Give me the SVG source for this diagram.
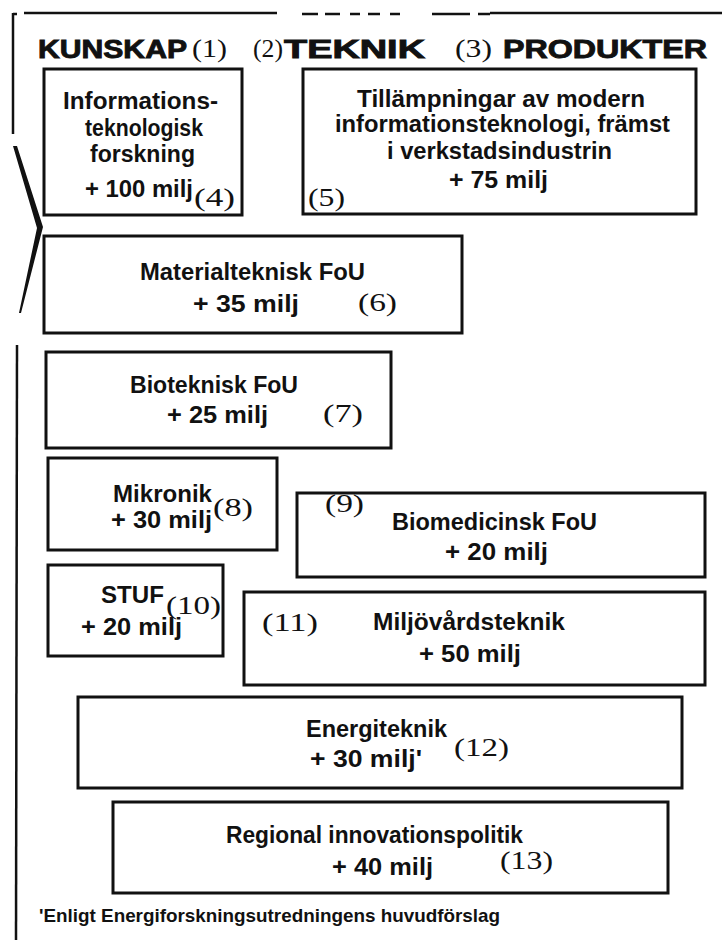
<svg xmlns="http://www.w3.org/2000/svg" width="722" height="940" viewBox="0 0 722 940">
<style>
.box{fill:none;stroke:#111;stroke-width:3}
.t{font-family:"Liberation Sans",Arial,sans-serif;font-weight:bold;font-size:23.5px;fill:#111}
.h{font-family:"Liberation Sans",Arial,sans-serif;font-weight:bold;font-size:26px;fill:#111;stroke:#111;stroke-width:0.9}
.n{font-family:"Liberation Serif","Times New Roman",serif;font-size:26px;fill:#111}
.fn{font-family:"Liberation Sans",Arial,sans-serif;font-weight:bold;font-size:18.5px;fill:#111}
.frame{fill:none;stroke:#111;stroke-width:2.5}
</style>
<rect width="722" height="940" fill="#fff"/>
<g id="frame">
<path class="frame" d="M13 14 L17 14 M24 13 L277 13 M302 14 L318 14 M325 14 L340 14 M350 14 L360 14 M368 14 L380 14 M390 14 L400 14 M432 14 L470 14 M478 14 L490 14 M490 13 L722 13"/>
<path class="frame" d="M13 13 L13 134"/>
<polygon points="13,146 17,146 43,227 21,313 19,313 37,228" fill="#111"/>
<path class="frame" d="M17 345 L16 940"/>
</g>
<g id="header">
<text class="h" x="38" y="58" textLength="149" lengthAdjust="spacingAndGlyphs">KUNSKAP</text>
<text class="n" x="192" y="57" textLength="35" lengthAdjust="spacingAndGlyphs">(1)</text>
<text class="n" x="253" y="57" textLength="30" lengthAdjust="spacingAndGlyphs">(2)</text>
<text class="h" x="284" y="58" textLength="141" lengthAdjust="spacingAndGlyphs">TEKNIK</text>
<text class="n" x="455" y="57" textLength="37" lengthAdjust="spacingAndGlyphs">(3)</text>
<text class="h" x="503" y="58" textLength="204" lengthAdjust="spacingAndGlyphs">PRODUKTER</text>
</g>
<g id="node4">
<rect class="box" x="44" y="69" width="198" height="146"/>
<text class="t" x="63" y="109" textLength="155" lengthAdjust="spacingAndGlyphs">Informations-</text>
<text class="t" x="85" y="136" textLength="118" lengthAdjust="spacingAndGlyphs">teknologisk</text>
<text class="t" x="90" y="162" textLength="105" lengthAdjust="spacingAndGlyphs">forskning</text>
<text class="t" x="85" y="197" textLength="108" lengthAdjust="spacingAndGlyphs">+ 100 milj</text>
<text class="n" x="194" y="206" textLength="41" lengthAdjust="spacingAndGlyphs">(4)</text>
</g>
<g id="node5">
<rect class="box" x="303" y="69" width="393" height="145"/>
<text class="t" x="357" y="107" textLength="288" lengthAdjust="spacingAndGlyphs">Tillämpningar av modern</text>
<text class="t" x="335" y="132" textLength="335" lengthAdjust="spacingAndGlyphs">informationsteknologi, främst</text>
<text class="t" x="387" y="159" textLength="225" lengthAdjust="spacingAndGlyphs">i verkstadsindustrin</text>
<text class="t" x="449" y="188" textLength="99" lengthAdjust="spacingAndGlyphs">+ 75 milj</text>
<text class="n" x="308" y="206" textLength="37" lengthAdjust="spacingAndGlyphs">(5)</text>
</g>
<g id="node6">
<rect class="box" x="44" y="236" width="418" height="97"/>
<text class="t" x="140" y="280" textLength="225" lengthAdjust="spacingAndGlyphs">Materialteknisk FoU</text>
<text class="t" x="193" y="312" textLength="106" lengthAdjust="spacingAndGlyphs">+ 35 milj</text>
<text class="n" x="358" y="311" textLength="39" lengthAdjust="spacingAndGlyphs">(6)</text>
</g>
<g id="node7">
<rect class="box" x="46" y="352" width="345" height="96"/>
<text class="t" x="130" y="393" textLength="168" lengthAdjust="spacingAndGlyphs">Bioteknisk FoU</text>
<text class="t" x="167" y="423" textLength="101" lengthAdjust="spacingAndGlyphs">+ 25 milj</text>
<text class="n" x="323" y="422" textLength="40" lengthAdjust="spacingAndGlyphs">(7)</text>
</g>
<g id="node8">
<rect class="box" x="48" y="458" width="229" height="92"/>
<text class="t" x="113" y="502" textLength="99" lengthAdjust="spacingAndGlyphs">Mikronik</text>
<text class="t" x="111" y="528" textLength="101" lengthAdjust="spacingAndGlyphs">+ 30 milj</text>
<text class="n" x="213" y="516" textLength="40" lengthAdjust="spacingAndGlyphs">(8)</text>
</g>
<g id="node9">
<rect class="box" x="297" y="493" width="408" height="84"/>
<text class="n" x="325" y="512" textLength="39" lengthAdjust="spacingAndGlyphs">(9)</text>
<text class="t" x="392" y="530" textLength="205" lengthAdjust="spacingAndGlyphs">Biomedicinsk FoU</text>
<text class="t" x="445" y="560" textLength="103" lengthAdjust="spacingAndGlyphs">+ 20 milj</text>
</g>
<g id="node10">
<rect class="box" x="48" y="565" width="175" height="91"/>
<text class="t" x="101" y="603" textLength="63" lengthAdjust="spacingAndGlyphs">STUF</text>
<text class="n" x="166" y="614" textLength="55" lengthAdjust="spacingAndGlyphs">(10)</text>
<text class="t" x="81" y="635" textLength="101" lengthAdjust="spacingAndGlyphs">+ 20 milj</text>
</g>
<g id="node11">
<rect class="box" x="244" y="592" width="461" height="93"/>
<text class="n" x="262" y="631" textLength="56" lengthAdjust="spacingAndGlyphs">(11)</text>
<text class="t" x="373" y="630" textLength="192" lengthAdjust="spacingAndGlyphs">Miljövårdsteknik</text>
<text class="t" x="419" y="662" textLength="102" lengthAdjust="spacingAndGlyphs">+ 50 milj</text>
</g>
<g id="node12">
<rect class="box" x="78" y="697" width="604" height="91"/>
<text class="t" x="306" y="737" textLength="141" lengthAdjust="spacingAndGlyphs">Energiteknik</text>
<text class="t" x="310" y="767" textLength="112" lengthAdjust="spacingAndGlyphs">+ 30 milj'</text>
<text class="n" x="454" y="756" textLength="55" lengthAdjust="spacingAndGlyphs">(12)</text>
</g>
<g id="node13">
<rect class="box" x="113" y="802" width="555" height="91"/>
<text class="t" x="226" y="843" textLength="297" lengthAdjust="spacingAndGlyphs">Regional innovationspolitik</text>
<text class="t" x="332" y="875" textLength="101" lengthAdjust="spacingAndGlyphs">+ 40 milj</text>
<text class="n" x="500" y="869" textLength="53" lengthAdjust="spacingAndGlyphs">(13)</text>
</g>
<g id="footnote">
<text class="fn" x="39" y="922" textLength="461" lengthAdjust="spacingAndGlyphs">'Enligt Energiforskningsutredningens huvudförslag</text>
</g>
<g id="connectors"></g>
</svg>
